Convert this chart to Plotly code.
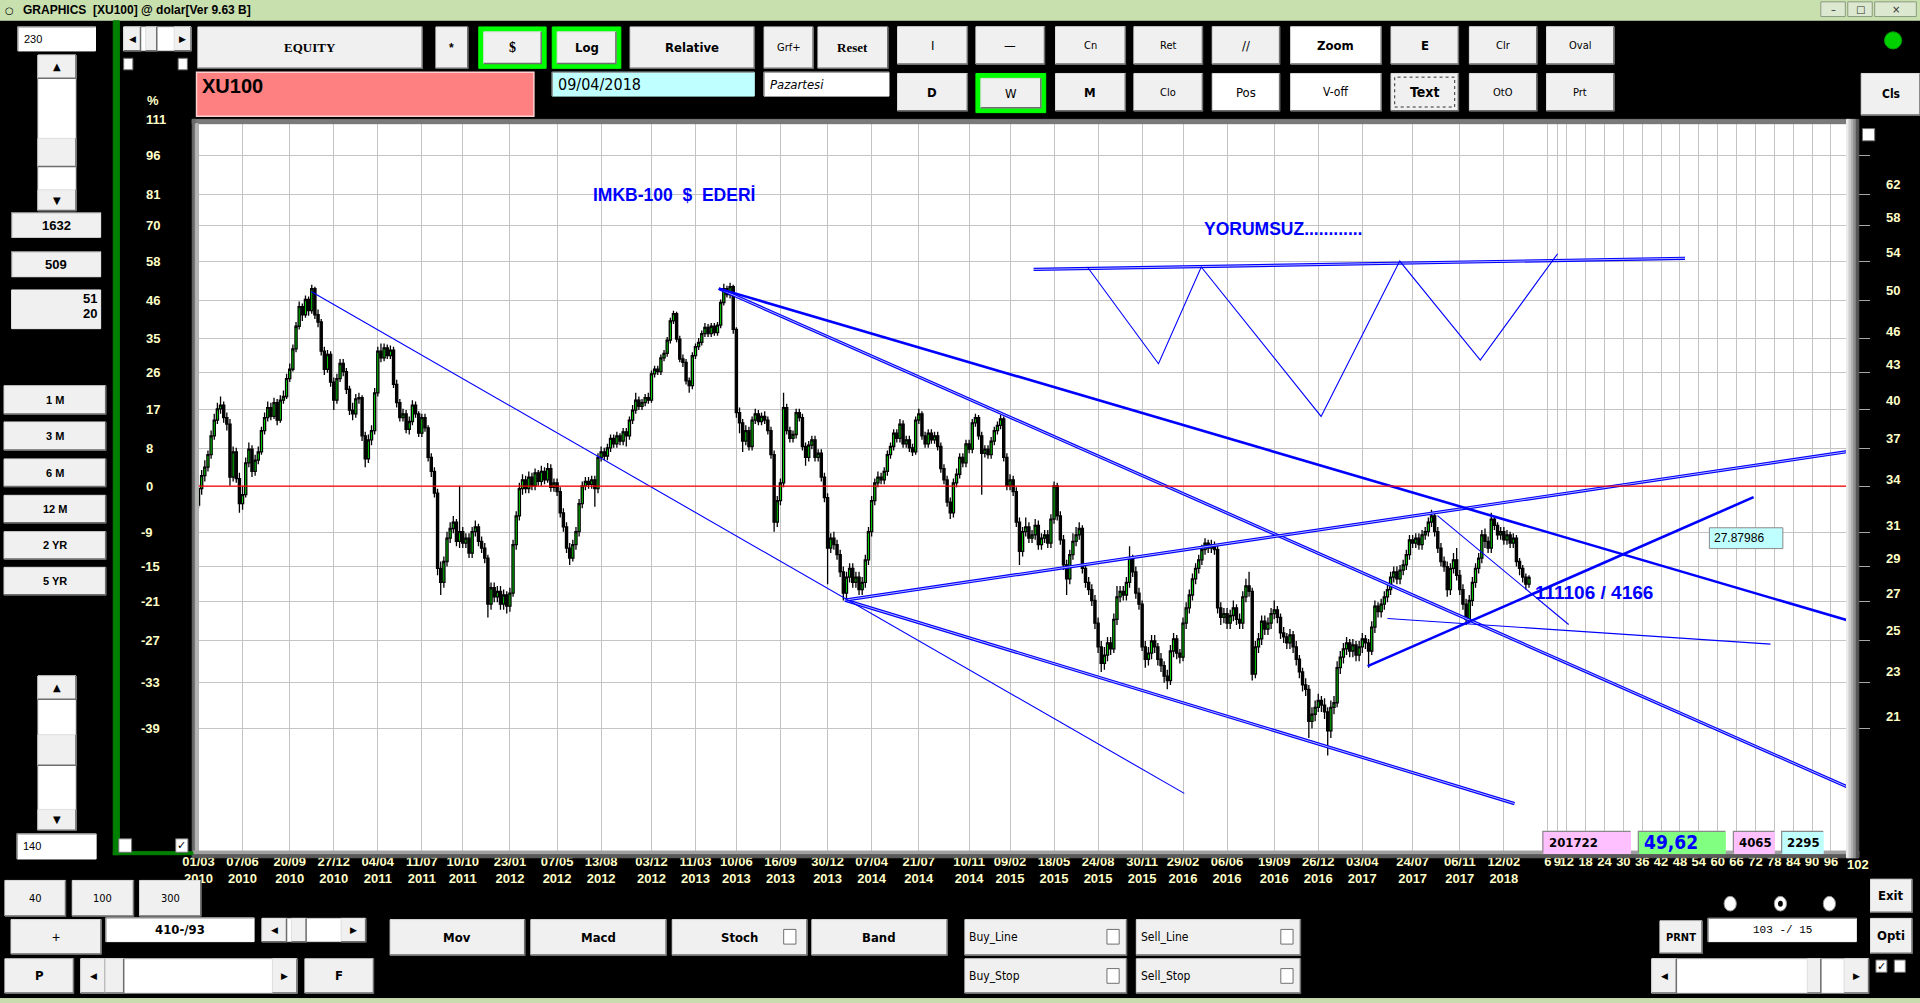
import numpy as np
import pandas as pd
import plotly.graph_objects as go

# XU100 in USD, weekly bars (first bar 01/03/2010)
start_date = "2010-03-01"
first_open = 32.3
week_close = [
    33.4, 34.3, 34.9, 35.8, 37.2, 38.4, 39.3, 39.6, 38.6, 38.1,
    34.2, 36.0, 34.1, 32.4, 33.0, 35.2, 36.2, 34.6, 35.4, 36.0,
    37.6, 38.6, 39.4, 38.7, 39.8, 38.4, 40.0, 40.3, 41.8, 42.6,
    44.4, 46.5, 48.4, 47.6, 49.1, 48.0, 50.2, 47.6, 46.9, 44.2,
    42.6, 43.9, 41.5, 40.0, 41.8, 43.1, 42.4, 40.9, 39.2, 38.9,
    40.1, 40.2, 37.2, 35.5, 36.9, 37.6, 40.6, 44.2, 43.6, 44.5,
    43.8, 44.3, 41.3, 39.8, 38.6, 38.9, 37.7, 38.3, 39.6, 38.9,
    37.4, 38.6, 37.8, 35.6, 34.6, 33.1, 28.4, 27.6, 28.8, 30.2,
    30.8, 31.2, 30.0, 30.6, 29.9, 30.2, 29.3, 30.6, 30.9, 30.0,
    29.6, 29.0, 26.4, 27.3, 26.8, 27.1, 26.4, 26.9, 26.3, 27.0,
    29.8, 31.6, 33.4, 34.0, 33.4, 34.2, 33.6, 34.5, 33.9, 34.6,
    34.0, 34.8, 33.5, 33.8, 33.2, 31.8, 30.9, 29.6, 29.0, 29.8,
    30.6, 32.4, 33.6, 33.9, 33.7, 34.0, 33.4, 35.6, 36.0, 35.7,
    36.3, 37.0, 36.6, 37.2, 36.8, 37.5, 37.2, 38.4, 39.2, 40.0,
    39.5, 39.8, 40.2, 40.0, 42.2, 42.6, 42.4, 43.6, 44.0, 45.2,
    47.0, 47.7, 45.3, 43.5, 43.2, 41.6, 41.2, 43.8, 44.6, 45.0,
    45.8, 46.4, 45.8, 46.5, 45.9, 46.6, 48.8, 50.2, 49.6, 50.4,
    46.2, 39.0, 38.2, 36.8, 37.6, 36.4, 38.4, 38.9, 38.3, 38.7,
    38.4, 37.6, 35.8, 31.2, 32.6, 33.8, 39.4, 37.6, 37.0, 37.3,
    39.0, 38.6, 36.4, 35.6, 36.5, 36.9, 35.6, 35.9, 34.2, 32.8,
    29.6, 30.2, 29.8, 29.2, 28.2, 27.0, 27.9, 28.4, 27.6, 27.9,
    27.2, 27.6, 28.9, 30.6, 32.6, 33.8, 34.2, 34.0, 34.6, 35.8,
    36.4, 37.4, 37.0, 38.1, 36.6, 36.9, 36.3, 36.0, 38.4, 38.9,
    37.2, 36.6, 37.4, 36.9, 37.2, 36.4, 34.8, 34.0, 32.5, 31.8,
    33.8, 34.4, 35.6, 35.2, 36.6, 36.2, 38.2, 38.6, 37.2, 35.9,
    36.2, 35.8, 36.8, 37.6, 38.0, 38.5, 35.6, 33.6, 34.0, 33.2,
    31.2, 29.4, 30.6, 30.9, 30.2, 30.4, 31.0, 29.8, 30.2, 30.4,
    29.9, 31.4, 33.6, 31.6, 30.1, 28.6, 27.8, 29.2, 30.0, 30.4,
    30.8, 28.4, 27.6, 27.2, 26.6, 25.4, 24.2, 23.4, 23.8, 24.4,
    24.1, 25.6, 26.8, 27.1, 26.9, 27.6, 29.0, 28.2, 27.0, 26.4,
    24.2, 23.6, 23.9, 24.5, 24.2, 23.6, 23.3, 22.8, 22.6, 24.0,
    24.6, 23.9, 23.7, 25.4, 26.2, 26.9, 27.8, 28.4, 28.9, 29.5,
    29.9, 29.6, 29.8, 29.5, 26.2, 25.7, 25.9, 25.4, 25.8, 26.2,
    25.6, 25.4, 26.8, 27.4, 27.1, 22.9, 24.2, 24.6, 25.5, 25.1,
    25.4, 25.9, 26.1, 25.7, 24.9, 24.7, 24.4, 24.8, 24.2, 23.6,
    23.0, 22.4, 22.2, 20.8, 21.1, 21.4, 21.7, 21.5, 21.2, 20.4,
    21.4, 21.6, 23.2, 23.7, 24.1, 24.4, 24.0, 24.3, 23.8, 24.2,
    24.6, 24.4, 24.0, 25.2, 26.3, 26.0, 26.4, 26.8, 27.2, 27.9,
    28.2, 27.8, 28.3, 28.6, 29.2, 30.1, 29.9, 30.2, 29.8, 30.4,
    30.6, 31.2, 31.6, 30.6, 29.6, 28.8, 28.5, 27.2, 28.4, 28.9,
    28.0, 27.2, 26.4, 25.6, 26.6, 27.6, 28.4, 29.0, 30.4, 30.0,
    29.6, 31.4, 31.0, 30.4, 30.6, 30.1, 30.4, 29.9, 30.2, 28.8,
    28.4, 27.9, 27.5, 27.88,
]
week_high = [
    33.7, 34.7, 35.4, 36.1, 37.6, 38.9, 39.8, 40.3, 39.9, 39.0,
    38.5, 36.4, 36.3, 34.5, 33.6, 35.6, 36.7, 36.5, 35.8, 36.4,
    37.9, 39.0, 39.9, 39.8, 40.2, 40.1, 40.4, 40.8, 42.2, 43.1,
    44.8, 46.9, 48.9, 48.7, 49.5, 49.4, 50.6, 50.4, 48.1, 47.2,
    44.6, 44.3, 44.2, 41.9, 42.2, 43.5, 43.5, 42.7, 41.2, 39.8,
    40.5, 40.6, 40.4, 37.5, 37.3, 38.0, 41.0, 44.6, 44.9, 44.9,
    44.8, 44.7, 44.6, 41.7, 40.1, 39.3, 39.2, 38.7, 40.0, 39.9,
    39.1, 38.9, 38.9, 38.0, 35.9, 34.9, 33.4, 28.8, 29.1, 30.6,
    31.2, 31.6, 31.4, 33.6, 30.9, 30.5, 30.5, 30.9, 31.3, 31.1,
    30.3, 29.9, 29.2, 27.6, 27.6, 27.4, 27.4, 27.2, 27.1, 27.3,
    30.1, 31.9, 33.8, 34.4, 34.3, 34.6, 34.5, 34.8, 34.7, 35.0,
    34.9, 35.2, 35.1, 34.1, 34.1, 33.5, 32.1, 31.2, 29.9, 30.1,
    30.9, 32.7, 33.9, 34.2, 34.2, 34.3, 34.3, 35.9, 36.4, 36.3,
    36.6, 37.3, 37.3, 37.5, 37.4, 37.8, 37.8, 38.7, 39.6, 40.6,
    40.3, 40.1, 40.5, 40.6, 42.5, 42.9, 42.9, 43.9, 44.3, 45.5,
    47.3, 48.0, 47.9, 45.6, 43.9, 43.5, 41.9, 44.1, 44.9, 45.4,
    46.1, 46.8, 46.7, 46.8, 46.8, 46.9, 49.1, 50.7, 50.5, 50.8,
    50.6, 46.4, 39.4, 38.5, 38.0, 37.9, 38.7, 39.3, 39.2, 39.0,
    39.1, 38.7, 37.9, 36.1, 32.9, 34.1, 40.6, 39.7, 37.9, 37.6,
    39.3, 39.3, 38.9, 36.7, 36.8, 37.2, 37.2, 36.2, 36.2, 34.5,
    33.1, 30.5, 30.6, 30.1, 29.5, 28.5, 28.2, 28.7, 28.7, 28.2,
    28.2, 27.9, 29.2, 30.9, 32.9, 34.1, 34.6, 34.5, 34.9, 36.1,
    36.7, 37.7, 37.7, 38.5, 38.4, 37.2, 37.2, 36.6, 38.7, 39.3,
    39.1, 37.5, 37.7, 37.7, 37.5, 37.5, 36.7, 35.1, 34.3, 32.8,
    34.1, 34.8, 35.9, 35.9, 36.9, 36.9, 38.5, 38.9, 38.8, 37.5,
    36.5, 36.5, 37.1, 37.9, 38.3, 38.8, 38.7, 35.9, 34.4, 34.3,
    33.5, 31.5, 30.9, 31.5, 31.2, 30.7, 31.4, 31.3, 30.5, 30.7,
    30.7, 31.7, 33.9, 33.8, 31.9, 30.4, 28.9, 29.5, 30.5, 30.9,
    31.2, 31.0, 28.7, 27.9, 27.5, 26.9, 25.7, 24.5, 24.2, 24.7,
    24.7, 25.9, 27.4, 27.4, 27.4, 27.9, 29.7, 29.2, 28.5, 27.3,
    26.6, 24.5, 24.2, 24.8, 24.8, 24.4, 23.9, 23.5, 23.1, 24.3,
    24.9, 24.8, 24.1, 25.7, 26.5, 27.2, 28.1, 28.7, 29.2, 29.8,
    30.2, 30.1, 30.1, 30.0, 29.7, 26.5, 26.2, 26.2, 26.1, 26.6,
    26.4, 25.9, 27.1, 27.8, 28.2, 27.3, 24.5, 24.9, 25.8, 25.8,
    25.7, 26.2, 26.6, 26.3, 25.9, 25.2, 24.9, 25.1, 25.0, 24.5,
    23.8, 23.2, 22.7, 22.4, 21.4, 21.7, 22.0, 21.9, 21.8, 21.4,
    21.7, 21.9, 23.5, 24.0, 24.4, 24.7, 24.6, 24.6, 24.5, 24.5,
    24.9, 24.8, 24.6, 25.5, 26.6, 26.5, 26.7, 27.1, 27.5, 28.2,
    28.5, 28.5, 28.6, 28.9, 29.5, 30.4, 30.4, 30.5, 30.5, 30.7,
    30.9, 31.5, 32.0, 31.8, 30.9, 29.9, 29.1, 28.8, 28.7, 29.3,
    29.6, 28.3, 27.5, 26.7, 26.9, 27.9, 28.7, 29.3, 30.7, 30.8,
    30.3, 31.8, 31.6, 31.2, 30.9, 30.9, 30.7, 30.6, 30.5, 30.4,
    29.0, 28.6, 28.1, 28.0,
]
week_low = [
    32.1, 33.0, 33.9, 34.6, 35.5, 36.9, 38.1, 38.9, 38.2, 37.6,
    33.6, 33.9, 33.8, 31.8, 32.0, 32.8, 34.9, 34.2, 34.3, 35.1,
    35.8, 37.3, 38.3, 38.4, 38.5, 38.0, 38.2, 39.7, 40.1, 41.5,
    42.4, 44.1, 46.2, 47.0, 47.3, 47.5, 47.7, 47.2, 46.4, 43.8,
    42.1, 42.3, 41.1, 39.2, 39.7, 41.5, 42.0, 40.5, 38.8, 38.4,
    38.6, 39.7, 36.8, 34.9, 35.2, 36.5, 37.3, 40.3, 43.2, 43.3,
    43.5, 43.5, 41.0, 39.4, 38.3, 38.3, 37.4, 37.3, 38.0, 38.6,
    37.1, 37.1, 37.5, 35.3, 34.2, 32.8, 28.0, 26.9, 27.3, 28.5,
    29.9, 30.5, 29.7, 29.6, 29.6, 29.6, 29.0, 29.0, 30.3, 29.7,
    29.3, 28.7, 25.7, 26.1, 26.5, 26.5, 26.1, 26.1, 25.9, 26.0,
    26.8, 29.5, 31.3, 33.0, 33.1, 33.1, 33.3, 33.3, 33.6, 33.6,
    33.7, 33.8, 33.2, 33.2, 32.9, 31.5, 30.6, 29.3, 28.6, 28.8,
    29.5, 30.3, 32.1, 33.3, 33.4, 33.4, 32.2, 33.1, 35.3, 35.4,
    35.4, 36.0, 36.3, 36.3, 36.5, 36.5, 36.4, 36.9, 38.1, 38.9,
    39.2, 39.2, 39.5, 39.7, 39.8, 41.9, 42.1, 42.1, 43.3, 43.7,
    44.9, 46.7, 45.0, 43.2, 42.8, 41.3, 40.6, 40.9, 43.5, 44.3,
    44.7, 45.5, 45.5, 45.5, 45.6, 45.6, 46.3, 48.5, 49.3, 49.2,
    45.8, 38.6, 37.4, 36.0, 36.5, 36.1, 36.1, 38.1, 38.0, 38.0,
    38.1, 37.3, 35.5, 30.6, 30.9, 32.3, 33.5, 37.3, 36.7, 36.7,
    37.0, 38.3, 36.1, 35.0, 35.3, 36.2, 35.3, 35.3, 33.9, 32.5,
    27.5, 29.3, 29.5, 28.9, 27.9, 26.6, 26.7, 27.6, 27.3, 27.3,
    26.9, 26.9, 27.3, 28.6, 30.3, 32.3, 33.5, 33.7, 33.7, 34.3,
    35.5, 36.1, 36.7, 36.7, 36.3, 36.3, 36.0, 35.7, 35.8, 38.1,
    36.9, 36.3, 36.3, 36.6, 36.6, 36.1, 34.5, 33.7, 32.2, 31.4,
    31.5, 33.5, 34.1, 34.9, 34.9, 35.9, 35.9, 37.9, 36.9, 33.0,
    35.6, 35.5, 35.5, 36.5, 37.3, 37.7, 35.3, 33.3, 33.3, 32.9,
    30.9, 28.6, 29.1, 30.3, 29.9, 29.9, 30.1, 29.5, 29.5, 29.9,
    29.6, 29.6, 31.1, 31.3, 29.8, 28.3, 26.9, 27.5, 28.9, 29.7,
    30.1, 28.1, 27.3, 26.9, 26.3, 25.1, 23.9, 23.0, 23.1, 23.5,
    23.8, 23.9, 25.3, 26.5, 26.6, 26.6, 27.3, 27.9, 26.7, 26.1,
    24.0, 23.2, 23.3, 23.6, 23.9, 23.3, 23.0, 22.5, 22.2, 22.4,
    23.7, 23.6, 23.4, 23.5, 25.1, 25.9, 26.6, 27.5, 28.1, 28.6,
    29.2, 29.3, 29.3, 29.2, 25.9, 25.3, 25.4, 25.1, 25.1, 25.5,
    25.3, 25.1, 25.1, 26.5, 26.8, 22.6, 22.7, 23.9, 24.3, 24.8,
    24.8, 25.1, 25.6, 25.4, 24.6, 24.4, 24.1, 24.1, 23.9, 23.3,
    22.7, 22.1, 21.9, 20.1, 20.5, 20.8, 21.2, 21.2, 20.9, 19.4,
    20.1, 21.1, 21.4, 22.9, 23.4, 23.8, 23.7, 23.7, 23.5, 23.5,
    23.9, 24.1, 23.2, 23.8, 24.9, 25.7, 25.7, 26.1, 26.5, 26.9,
    27.6, 27.5, 27.5, 28.0, 28.3, 28.9, 29.6, 29.6, 29.5, 29.5,
    30.1, 30.3, 30.9, 30.3, 29.3, 28.5, 28.2, 26.8, 26.9, 28.1,
    27.7, 26.9, 26.1, 25.3, 25.4, 26.3, 27.3, 28.1, 28.7, 29.6,
    29.3, 29.3, 30.7, 30.1, 30.1, 29.8, 29.8, 29.6, 29.6, 28.5,
    28.0, 27.6, 27.2, 27.3,
]

base_price = 33.57  # the 0 % (red) line
pct_ticks = [111, 96, 81, 70, 58, 46, 35, 26, 17, 8, 0, -9, -15, -21, -27, -33, -39]
price_ticks = [62, 58, 54, 50, 46, 43, 40, 37, 34, 31, 29, 27, 25, 23, 21]
date_ticks = ["01/03/2010", "07/06/2010", "20/09/2010", "27/12/2010", "04/04/2011",
              "11/07/2011", "10/10/2011", "23/01/2012", "07/05/2012", "13/08/2012",
              "03/12/2012", "11/03/2013", "10/06/2013", "16/09/2013", "30/12/2013",
              "07/04/2014", "21/07/2014", "10/11/2014", "09/02/2015", "18/05/2015",
              "24/08/2015", "30/11/2015", "29/02/2016", "06/06/2016", "19/09/2016",
              "26/12/2016", "03/04/2017", "24/07/2017", "06/11/2017", "12/02/2018"]
future_ticks = [6, 9, 12, 18, 24, 30, 36, 42, 48, 54, 60, 66, 72, 78, 84, 90, 96]

# trend lines as (bar index, $ price) end points
thin_lines = [
    ([35.8, 313.4], [49.9, 17.96]),
    ([393.9, 435.6], [31.62, 25.33]),
    ([378.0, 499.8], [25.64, 24.34]),
]
double_lines = [
    ([165.4, 526.3], [50.2, 18.09]),
    ([205.5, 418.4], [26.62, 17.59]),
    ([205.5, 526.3], [26.62, 36.09]),
    ([265.5, 472.6], [52.2, 53.4]),
]
thick_lines = [
    ([165.4, 526.3], [50.2, 25.45]),
    ([371.7, 494.4], [23.27, 32.83]),
]
zigzag_x = [282.6, 305.2, 318.8, 356.9, 381.9, 407.5, 432.1]
zigzag_y = [52.46, 43.08, 52.46, 38.7, 53.1, 43.4, 53.9]

SANS = "Liberation Sans, Arial, sans-serif"
NARROW = "Liberation Sans Narrow, Arial Narrow, DejaVu Sans Condensed, sans-serif"
SERIF = "Liberation Serif, Times New Roman, serif"
MONO = "Liberation Mono, DejaVu Sans Mono, monospace"
LABEL = "#ffffc8"
BLUE = "#0000ff"

# the screen is laid out in 1568 x 819 units, scaled to 1920 x 1003
W0, H0 = 1568.0, 819.1


def px(x):
    return x / W0


def py(y):
    return 1 - y / H0


shapes = []
annots = []


def fnt(size, color="black", family=NARROW, bold=False, italic=False):
    return dict(size=size, color=color, family=family,
                weight="bold" if bold else "normal",
                style="italic" if italic else "normal")


def rect(x0, y0, x1, y1, fill, line=None, lw=1, dash="solid"):
    shapes.append(dict(type="rect", xref="paper", yref="paper",
                       x0=px(x0), x1=px(x1), y0=py(y1), y1=py(y0),
                       fillcolor=fill, layer="above",
                       line=dict(color=line or fill, width=lw, dash=dash)))


def path(pts, color, lw=1):
    d = "M " + " L ".join(f"{px(x)},{py(y)}" for x, y in pts)
    shapes.append(dict(type="path", xref="paper", yref="paper", path=d,
                       line=dict(color=color, width=lw), layer="above"))


def text(x, y, s, size=12, color="black", family=NARROW, bold=False,
         italic=False, anchor="center"):
    annots.append(dict(x=px(x), y=py(y), xref="paper", yref="paper", text=s,
                       showarrow=False, xanchor=anchor, yanchor="middle",
                       font=fnt(size, color, family, bold, italic)))


def button(x0, y0, x1, y1, label="", size=13, bold=True, family=NARROW,
           fill="#f0f0f0", color="black", italic=False):
    rect(x0, y0, x1, y1, fill, "#dedede")
    path([(x0, y1), (x1, y1), (x1, y0)], "#6e6e6e", 1.5)
    if label:
        text((x0 + x1) / 2, (y0 + y1) / 2, label, size, color, family, bold, italic)


def framed(x0, y0, x1, y1, label, **kw):
    rect(x0, y0, x1, y1, "#00ff00")
    button(x0 + 4, y0 + 4, x1 - 4, y1 - 4, label, **kw)


def field(x0, y0, x1, y1, label="", size=12, bold=False, family=SANS,
          fill="white", color="black", align="left", italic=False):
    rect(x0, y0, x1, y1, fill)
    path([(x0, y1), (x0, y0), (x1, y0)], "#8a8a8a", 1.2)
    if label:
        if align == "left":
            text(x0 + 3, (y0 + y1) / 2, label, size, color, family, bold, italic, "left")
        else:
            text((x0 + x1) / 2, (y0 + y1) / 2, label, size, color, family, bold, italic)


def checkbox(x0, y0, x1, y1, checked=False):
    rect(x0, y0, x1, y1, "white", "#707070")
    if checked:
        text((x0 + x1) / 2, (y0 + y1) / 2, "✓", 11, "black", "DejaVu Sans", True)


def hscroll(x0, y0, x1, y1, t0, t1):
    rect(x0, y0, x1, y1, "white", "#d0d0d0")
    a = min(20, (x1 - x0) / 4)
    button(x0, y0, x0 + a, y1, "◀", 9, False, "DejaVu Sans")
    button(t0, y0, t1, y1)
    button(x1 - a, y0, x1, y1, "▶", 9, False, "DejaVu Sans")


def vscroll(x0, y0, x1, y1, t0, t1):
    rect(x0, y0, x1, y1, "white", "#d0d0d0")
    button(x0, y0, x1, y0 + 19, "▲", 10, False, "DejaVu Sans")
    button(x0, t0, x1, t1)
    button(x0, y1 - 17, x1, y1, "▼", 10, False, "DejaVu Sans")


# ---------------- chart ----------------
n = min(len(week_close), len(week_high), len(week_low))
close = np.array(week_close[:n])
opens = np.array([first_open] + week_close[:n - 1])
high = np.maximum(np.array(week_high[:n]), np.maximum(opens, close))
low = np.minimum(np.array(week_low[:n]), np.minimum(opens, close))
bars = np.arange(n)

t0 = pd.Timestamp(start_date)
tick_idx = [(pd.to_datetime(d, dayfirst=True) - t0).days // 7 for d in date_ticks]
tick_txt = [pd.to_datetime(d, dayfirst=True).strftime("%d/%m<br>%Y") for d in date_ticks]
last = n - 1
tick_idx += [last + w for w in future_ticks]
tick_txt += [str(w) for w in future_ticks]

pct_vals = [base_price * (1 + p / 100) for p in pct_ticks]
y_lo, y_hi = np.log10(15.97), np.log10(70.24)
dom_y = [py(695), py(101)]

fig = go.Figure()
fig.add_trace(go.Candlestick(
    x=bars, open=opens, high=high, low=low, close=close,
    increasing=dict(line=dict(color="black", width=1.3), fillcolor="#00f000"),
    decreasing=dict(line=dict(color="black", width=1.3), fillcolor="black"),
    whiskerwidth=0, hoverinfo="skip", showlegend=False))

for xs, ys in double_lines:
    fig.add_trace(go.Scatter(x=xs, y=ys, mode="lines", line=dict(color=BLUE, width=3.2),
                             hoverinfo="skip", showlegend=False))
    fig.add_trace(go.Scatter(x=xs, y=ys, mode="lines", line=dict(color="white", width=0.7),
                             hoverinfo="skip", showlegend=False))
for xs, ys in thick_lines:
    fig.add_trace(go.Scatter(x=xs, y=ys, mode="lines", line=dict(color=BLUE, width=2.6),
                             hoverinfo="skip", showlegend=False))
for xs, ys in thin_lines:
    fig.add_trace(go.Scatter(x=xs, y=ys, mode="lines", line=dict(color=BLUE, width=1.1),
                             hoverinfo="skip", showlegend=False))
fig.add_trace(go.Scatter(x=zigzag_x, y=zigzag_y, mode="lines", line=dict(color=BLUE, width=1.1),
                         hoverinfo="skip", showlegend=False))
fig.add_trace(go.Scatter(x=[-5, 540], y=[base_price, base_price], mode="lines", yaxis="y2",
                         line=dict(color="#ff0000", width=1.2), hoverinfo="skip", showlegend=False))


def value_label(x, v, s, anchor="left"):
    # labels outside the axis range are placed on paper so they are not hidden
    lv = np.log10(v)
    if y_lo <= lv <= y_hi:
        yy, yr = lv, "y"
    else:
        yy, yr = dom_y[0] + (lv - y_lo) / (y_hi - y_lo) * (dom_y[1] - dom_y[0]), "paper"
    annots.append(dict(x=px(x), y=yy, xref="paper", yref=yr, text=s, showarrow=False,
                       xanchor=anchor, yanchor="middle", font=fnt(13, LABEL, SANS, True)))


# axis labels: % on the left, $ price on the right
for p, v in zip(pct_ticks, pct_vals):
    value_label(113.5 if p < 0 else 117.5, v, str(p))
for v in price_ticks:
    value_label(1538.6, v, str(v))
text(125, 81.7, "%", 13, LABEL, SANS, True)
text(1517, 706, "102", 13, LABEL, SANS, True)

# texts written on the chart
text(483, 159, "IMKB-100\u00a0\u00a0$\u00a0\u00a0EDERİ", 17.5, BLUE, SANS, True, anchor="left")
text(982, 187, "YORUMSUZ............", 17.5, BLUE, SANS, True, anchor="left")
text(1252, 484, "111106 / 4166", 19, BLUE, SANS, True, anchor="left")
rect(1396, 431, 1456, 448, "#c0ffff", "#8a8a8a")
text(1398, 439.5, "27.87986", 12, "black", SANS, anchor="left")

# plot frame
rect(157, 97.5, 1510, 101, "#7a7a7a")
rect(157, 97.5, 159.5, 699, "#6a6a6a")
rect(159.5, 101, 162, 695, "#b4b4b4")
rect(157, 695, 1518, 698, "#a0a0a0")
rect(157, 698, 1518, 700.5, "#5a5a5a")
for k, c in enumerate(["#ececec", "#cfcfcf", "#b0b0b0", "#8e8e8e", "#555555"]):
    rect(1508 + 2 * k, 97.5, 1510 + 2 * k, 700.5, c)

# boxes at the foot of the chart
field(1260, 679, 1331.6, 697, "201722", 13, True, NARROW, "#ffc0ff")
field(1338, 679, 1409, 697, "49,62", 19, True, NARROW, "#80ff80", BLUE)
field(1415.6, 679, 1449, 697, "4065", 13, True, NARROW, "#ffc0ff")
field(1455, 679, 1489, 697, "2295", 13, True, NARROW, "#c0ffff")

# ---------------- window chrome ----------------
rect(0, 0, 1568, 16.5, "#c8dfae")
text(8, 8.5, "○", 10, "black", "DejaVu Sans")
text(17.5, 8.5, "GRAPHICS\u00a0\u00a0[XU100] @ dolar[Ver 9.63 B]", 12, "black", SANS, True, anchor="left")
for x0, x1, s in [(1487, 1507, "–"), (1509, 1529, "□"), (1531, 1565, "×")]:
    rect(x0, 1.5, x1, 13.5, "#dce8d0", "#8c9c80")
    text((x0 + x1) / 2, 7.5, s, 10, "#303030", "DejaVu Sans")
rect(0, 815.5, 1568, 819.1, "#c8dcb0")

rect(92.5, 17, 97.5, 698, "#008000")
rect(92.5, 695.5, 157.5, 698, "#008000")

# left column
field(14.6, 22, 78, 41.6, "230", 11)
vscroll(31, 45, 62, 172, 113, 136)
field(9.5, 173.7, 82.2, 193.8, "1632", 13, True, SANS, "#f0f0f0", align="center")
field(9.5, 205.5, 82.2, 226, "509", 13, True, SANS, "#f0f0f0", align="center")
rect(9.5, 236.8, 82.2, 268.4, "#f0f0f0")
text(81, 243.5, "51", 13, "black", SANS, True, anchor="right")
text(81, 256, "20", 13, "black", SANS, True, anchor="right")
for label, y0, y1 in [("1 M", 315, 338), ("3 M", 344.6, 367.5), ("6 M", 374.8, 397.4),
                      ("12 M", 404.5, 426.9), ("2 YR", 434.2, 456.5), ("5 YR", 463.3, 485.7)]:
    button(3.3, y0, 86.3, y1, label, 11, True, SANS)
vscroll(31, 552, 62, 678, 600, 625)
field(14, 681, 78.5, 701.5, "140", 11)
checkbox(97, 685, 107.5, 696)
checkbox(143.5, 685, 153.5, 696, True)
hscroll(101, 22, 156, 41.4, 119, 128)
checkbox(101, 47.6, 108.5, 57)
checkbox(145.5, 47.6, 153, 57)

# top toolbar
button(161.6, 22, 344.8, 55.8, "EQUITY", 13, True, SERIF)
button(356, 22, 382, 55.8, "*", 12, True, SANS)
framed(391, 22, 446, 55.8, "$", size=14, family=SERIF)
framed(451, 22, 507, 55.8, "Log", size=13)
button(514.6, 22, 616, 55.8, "Relative", 13)
button(624, 22, 664, 55.8, "Grf+", 11, False)
button(668, 22, 725, 55.8, "Reset", 13, True, SERIF)
row1 = [(733, 790, "I", 13, False), (797, 853, "—", 13, False), (862, 919, "Cn", 11, False),
        (926, 982, "Ret", 11, False), (990, 1045, "//", 13, False), (1136, 1191, "E", 13, True),
        (1200, 1255, "Clr", 11, False), (1263, 1318, "Oval", 11, False)]
for x0, x1, s, sz, b in row1:
    button(x0, 21.8, x1, 52.3, s, sz, b)
button(1054, 21.8, 1128, 52.3, "Zoom", 13, True, fill="white")

rect(160.5, 59, 436, 95, "#ff8080", "#ffd0d0", 1.5)
text(163, 70, "XU100", 20, "black", SANS, True, anchor="left")
field(451, 59, 616, 78.5, "09/04/2018", 16, False, NARROW, "#c0ffff")
field(624, 59, 726, 78.5, "Pazartesi", 13, False, NARROW, italic=True)

button(733, 60, 790, 90.4, "D", 13, True)
framed(797, 60, 854, 92, "W", size=13, bold=False)
button(862, 60, 919, 90.4, "M", 13, True)
button(926, 60, 982, 90.4, "Clo", 11, False)
button(990, 60, 1045, 90.4, "Pos", 13, False, fill="white")
button(1054, 60, 1128, 90.4, "V-off", 12, False, fill="white")
button(1136, 60, 1191, 90.4, "Text", 14, True)
rect(1139, 63, 1188, 87.4, "rgba(0,0,0,0)", "#303030", 1, "dot")
button(1200, 60, 1255, 90.4, "OtO", 11, False)
button(1263, 60, 1318, 90.4, "Prt", 11, False)
button(1520, 60, 1568, 94, "Cls", 12, True)
shapes.append(dict(type="circle", xref="paper", yref="paper", x0=px(1539), x1=px(1553),
                   y0=py(40), y1=py(26), fillcolor="#00d000", line=dict(color="#00a000", width=1),
                   layer="above"))
checkbox(1521, 105, 1531, 115)

# bottom controls
for s, x0, x1 in [("40", 4, 53.5), ("100", 59, 109), ("300", 114, 164)]:
    button(x0, 719, x1, 748, s, 11, False)
button(9, 751, 82.5, 779, "+", 14, False, SANS)
field(86.5, 749.6, 207.5, 769, "410-/93", 13, True, NARROW, align="center")
hscroll(214, 750, 298.6, 769, 238, 250)
for s, x0, x1 in [("Mov", 318.6, 428.5), ("Macd", 433.5, 544), ("Stoch", 549, 659), ("Band", 663, 773.5)]:
    button(x0, 751, x1, 780, s, 13, True)
checkbox(640, 759, 650, 771)
button(4, 783, 60, 811, "P", 13, True)
hscroll(66, 783, 242.5, 811, 86, 101)
button(249, 783, 305, 811, "F", 13, True)
for s, x0, x1, y0, y1 in [("Buy_Line", 788, 920, 751, 780), ("Sell_Line", 928, 1062, 751, 780),
                          ("Buy_Stop", 788, 920, 783, 811), ("Sell_Stop", 928, 1062, 783, 811)]:
    button(x0, y0, x1, y1)
    text(x0 + 2, (y0 + y1) / 2, s, 12, "black", NARROW, anchor="left")
    checkbox(x1 - 16, y0 + 8, x1 - 6, y0 + 20)
for k, x in enumerate([1413, 1454, 1494]):
    shapes.append(dict(type="circle", xref="paper", yref="paper", x0=px(x - 5), x1=px(x + 5),
                       y0=py(744), y1=py(732), fillcolor="white", line=dict(color="#909090", width=1),
                       layer="above"))
    if k == 1:
        shapes.append(dict(type="circle", xref="paper", yref="paper", x0=px(x - 2), x1=px(x + 2),
                           y0=py(740.5), y1=py(735.5), fillcolor="black", line=dict(color="black", width=0),
                           layer="above"))
button(1355.6, 752, 1390, 778.5, "PRNT", 11, True)
field(1395, 750, 1516, 769, "103\u00a0-/\u00a015", 11, False, MONO, align="center")
button(1527.6, 718, 1561.5, 745, "Exit", 13, True)
button(1527.6, 750, 1561.5, 778.5, "Opti", 13, True)
hscroll(1349, 783, 1526, 811, 1476, 1487)
checkbox(1532, 784, 1541, 794, True)
checkbox(1547, 784, 1556, 794)

fig.update_layout(
    width=1920, height=1003,
    margin=dict(l=0, r=0, t=0, b=0, pad=0, autoexpand=False),
    paper_bgcolor="black", plot_bgcolor="white",
    showlegend=False, hovermode=False, boxgap=0.03,
    xaxis=dict(domain=[px(162), px(1508)], range=[-0.05, 523.95], automargin=False,
               tickmode="array", tickvals=tick_idx, ticktext=tick_txt, tickangle=0,
               showgrid=True, gridcolor="#c4c4c4", gridwidth=1, zeroline=False,
               showline=False, ticks="", ticklabelstandoff=1,
               tickfont=fnt(13, LABEL, SANS, True), rangeslider=dict(visible=False),
               fixedrange=True),
    yaxis=dict(domain=dom_y, type="log", range=[y_lo, y_hi], automargin=False,
               tickmode="array", tickvals=pct_vals, showticklabels=False,
               showgrid=True, gridcolor="#c4c4c4", gridwidth=1, zeroline=False,
               ticks="", showline=False, fixedrange=True),
    yaxis2=dict(overlaying="y", side="right", type="log", range=[y_lo, y_hi], automargin=False,
                tickmode="array", tickvals=pct_vals, showticklabels=False,
                ticks="outside", ticklen=22, tickcolor="#a8a8a8", tickwidth=1,
                showgrid=False, zeroline=False, showline=False, fixedrange=True),
    shapes=shapes,
    annotations=annots,
)

fig.write_html("out.html", config={"displayModeBar": False},
               post_script="document.body.style.margin='0';document.body.style.overflow='hidden';")
